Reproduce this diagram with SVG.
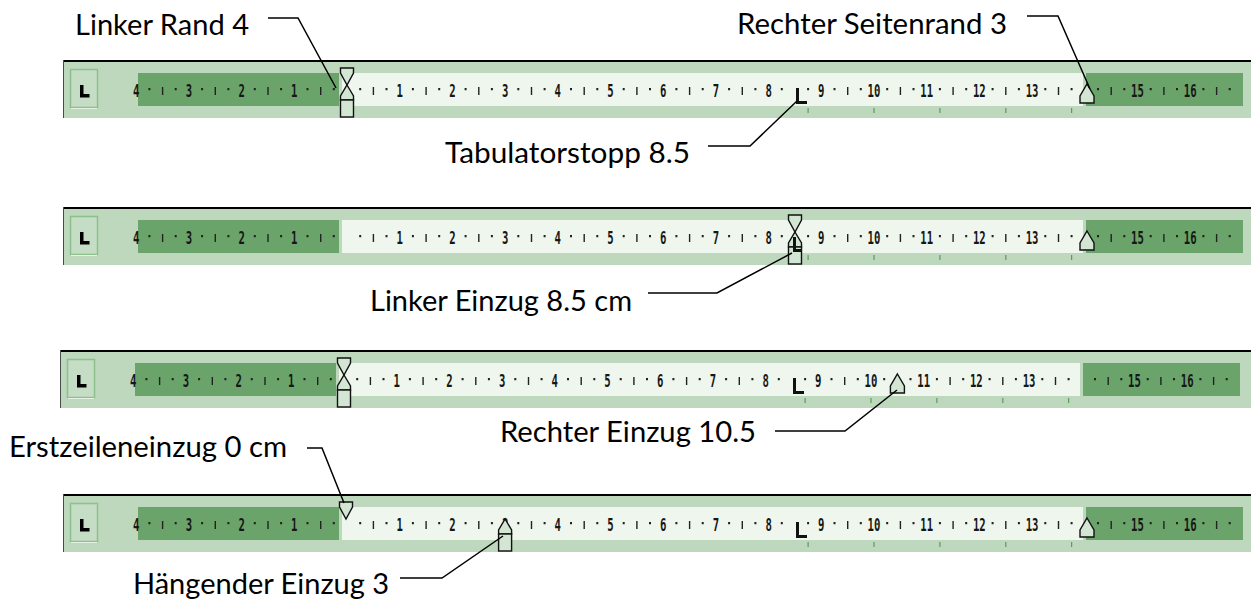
<svg xmlns="http://www.w3.org/2000/svg" xmlns:xlink="http://www.w3.org/1999/xlink" width="1251" height="603" viewBox="0 0 1251 603">
<style>
.lbl{font-family:Lato,"Open Sans","Liberation Sans",sans-serif;font-size:29px;fill:#000}
.num{font-family:"DejaVu Sans Mono","Liberation Mono",monospace;font-size:17px;font-weight:bold;fill:#161616;text-anchor:middle}
.dot{stroke:#222;stroke-width:2;fill:none}
.bar{stroke:#222;stroke-width:1.4;fill:none}
.dtab{stroke:#5c9c5c;stroke-width:1.2;fill:none}
.mk{fill:#d3e5d3;stroke:#111;stroke-width:1.4;stroke-linejoin:miter}
.tab{fill:#111}
.lead{fill:none;stroke:#000;stroke-width:1.5}
</style>
<defs>
<g id="base">
<rect x="63" y="0" width="1200" height="58" fill="#bdd8bd"/>
<rect x="138" y="13" width="201" height="33" fill="#6aa46a"/>
<rect x="342" y="13" width="741" height="33" fill="#eef6ee"/>
<rect x="1086" y="13" width="157" height="33" fill="#6aa46a"/>
<line x1="63" y1="1" x2="1263" y2="1" stroke="#000" stroke-width="2"/>
<line x1="63.5" y1="0" x2="63.5" y2="58" stroke="#4a4a4a" stroke-width="1"/>
<rect x="70.5" y="9.5" width="27" height="38" fill="#c4ddc4" stroke="#8cc08c" stroke-width="1.5"/>
<line x1="71" y1="48.5" x2="97" y2="48.5" stroke="#e6f2e6" stroke-width="1"/>
<path d="M80,25h3.5v9h6v3.5h-9.5z" fill="#000"/>
</g>
<g id="scale">
<g transform="scale(0.625,1)" class="num">
<text x="217.9" y="37">4</text>
<text x="302.2" y="37">3</text>
<text x="386.6" y="37">2</text>
<text x="470.9" y="37">1</text>
<text x="639.5" y="37">1</text>
<text x="723.8" y="37">2</text>
<text x="808.2" y="37">3</text>
<text x="892.5" y="37">4</text>
<text x="976.8" y="37">5</text>
<text x="1061.1" y="37">6</text>
<text x="1145.4" y="37">7</text>
<text x="1229.8" y="37">8</text>
<text x="1314.1" y="37">9</text>
<text x="1398.4" y="37">10</text>
<text x="1482.7" y="37">11</text>
<text x="1567.0" y="37">12</text>
<text x="1651.4" y="37">13</text>
<text x="1820.0" y="37">15</text>
<text x="1904.3" y="37">16</text>
</g>
<path class="dot" d="M149.4,28v2.2M175.7,28v2.2M202.1,28v2.2M228.4,28v2.2M254.8,28v2.2M281.1,28v2.2M307.5,28v2.2M333.8,28v2.2M360.2,28v2.2M386.5,28v2.2M412.9,28v2.2M439.2,28v2.2M465.6,28v2.2M491.9,28v2.2M518.3,28v2.2M544.6,28v2.2M571,28v2.2M597.3,28v2.2M623.7,28v2.2M650,28v2.2M676.4,28v2.2M702.7,28v2.2M729.1,28v2.2M755.4,28v2.2M781.8,28v2.2M808.1,28v2.2M834.5,28v2.2M860.8,28v2.2M887.2,28v2.2M913.5,28v2.2M939.9,28v2.2M966.2,28v2.2M992.6,28v2.2M1018.9,28v2.2M1045.3,28v2.2M1071.6,28v2.2M1098,28v2.2M1124.3,28v2.2M1150.7,28v2.2M1177,28v2.2M1203.4,28v2.2M1229.7,28v2.2"/>
<path class="bar" d="M162.6,27v8M215.3,27v8M268,27v8M320.7,27v8M373.4,27v8M426.1,27v8M478.8,27v8M531.5,27v8M584.2,27v8M636.9,27v8M689.6,27v8M742.3,27v8M847.7,27v8M900.4,27v8M953.1,27v8M1005.8,27v8M1058.5,27v8M1111.2,27v8M1163.9,27v8M1216.6,27v8"/>
<path class="dtab" d="M808.1,48v5M874,48v5M939.9,48v5M1005.8,48v5M1071.6,48v5"/>
</g>
<path id="first" class="mk" d="M-6.5,8H6.5V13L0,25L-6.5,13Z"/>
<g id="hang"><path class="mk" d="M0,25L6.5,36V40H-6.5V36Z"/><rect class="mk" x="-6.5" y="40" width="13" height="17"/></g>
<path id="rind" class="mk" d="M0,24L7,36V43H-7V36Z"/>
<path id="tabL" class="tab" d="M0,28h3v13h8v3h-11z"/>
</defs>

<g id="ruler1" transform="translate(0,60)">
<use xlink:href="#base"/>
<use xlink:href="#scale"/>
<use xlink:href="#tabL" x="796"/>
<use xlink:href="#first" x="347"/>
<use xlink:href="#hang" x="347"/>
<use xlink:href="#rind" x="1087"/>
</g>

<g id="ruler2" transform="translate(0,207)">
<use xlink:href="#base"/>
<use xlink:href="#scale"/>
<use xlink:href="#first" x="795"/>
<use xlink:href="#hang" x="795"/>
<path class="tab" d="M793,30h3v12h5v3h-8z"/>
<use xlink:href="#rind" x="1087"/>
</g>

<g id="ruler3" transform="translate(-3,350)">
<use xlink:href="#base"/>
<use xlink:href="#scale"/>
<use xlink:href="#tabL" x="796"/>
<use xlink:href="#first" x="347"/>
<use xlink:href="#hang" x="347"/>
<use xlink:href="#rind" x="900.4"/>
</g>

<g id="ruler4" transform="translate(0,494)">
<use xlink:href="#base"/>
<use xlink:href="#scale"/>
<use xlink:href="#tabL" x="796"/>
<use xlink:href="#first" x="346"/>
<use xlink:href="#hang" x="505.1"/>
<use xlink:href="#rind" x="1087"/>
</g>

<g id="connectors">
<path class="lead" d="M268,18H298L336,88"/>
<path class="lead" d="M1027,16H1058L1090,89"/>
<path class="lead" d="M708,146H750L797,101"/>
<path class="lead" d="M648,293H717L792,253"/>
<path class="lead" d="M775,431H845L897,390"/>
<path class="lead" d="M307,448H322L344,503"/>
<path class="lead" d="M400,578H442L503,536"/>
</g>

<g id="label-linker-rand"><text class="lbl" x="75" y="35" textLength="174" lengthAdjust="spacingAndGlyphs">Linker Rand 4</text></g>
<g id="label-rechter-seitenrand"><text class="lbl" x="737" y="34" textLength="270" lengthAdjust="spacingAndGlyphs">Rechter Seitenrand 3</text></g>
<g id="label-tabulatorstopp"><text class="lbl" x="445" y="163" textLength="245" lengthAdjust="spacingAndGlyphs">Tabulatorstopp 8.5</text></g>
<g id="label-linker-einzug"><text class="lbl" x="370" y="311" textLength="262" lengthAdjust="spacingAndGlyphs">Linker Einzug 8.5 cm</text></g>
<g id="label-rechter-einzug"><text class="lbl" x="500" y="442" textLength="256" lengthAdjust="spacingAndGlyphs">Rechter Einzug 10.5</text></g>
<g id="label-erstzeileneinzug"><text class="lbl" x="9" y="457" textLength="278" lengthAdjust="spacingAndGlyphs">Erstzeileneinzug 0 cm</text></g>
<g id="label-haengender-einzug"><text class="lbl" x="133" y="594" textLength="256" lengthAdjust="spacingAndGlyphs">Hängender Einzug 3</text></g>
</svg>
